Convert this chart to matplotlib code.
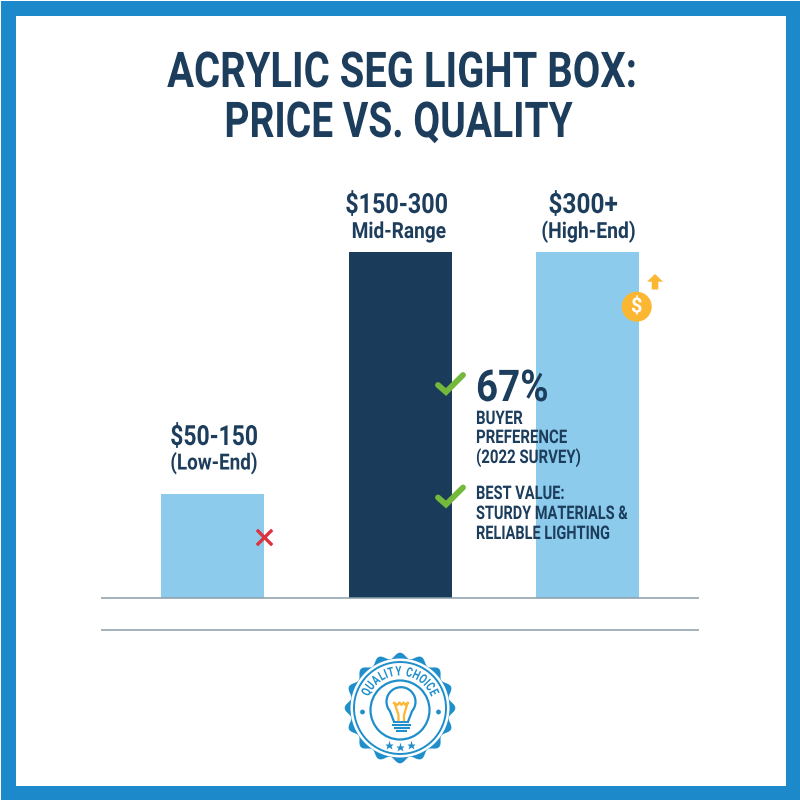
import numpy as np
import matplotlib
matplotlib.use('Agg')
import matplotlib.pyplot as plt
from matplotlib.patches import Rectangle, Circle, Polygon
from matplotlib.patheffects import AbstractPathEffect
from matplotlib.transforms import Affine2D
from matplotlib.textpath import TextPath
from matplotlib.font_manager import FontProperties

FONT = 'Roboto'

categories = ['Low-End', 'Mid-Range', 'High-End']
heights = [30, 100, 100]
price_labels = ['$50-150', '$150-300', '$300+']
tier_labels = ['(Low-End)', 'Mid-Range', '(High-End)']
bar_colors = ['#8ccbec', '#1a3b5a', '#8ccbec']

NAVY = '#1c3d5c'
BLUE = '#1f8fcb'
BORDER = '#1c8aca'
GREEN = '#74b83c'
GOLD = '#fbb632'
RED = '#d9343f'


class Condense(AbstractPathEffect):
    """Squeeze real text along its own direction around its anchor
    (no condensed face is installed). x0, y0 are display pixels."""
    def __init__(self, sx, x0, y0=0.0, rot=0.0):
        super().__init__()
        self.m = (Affine2D().translate(-x0, -y0).rotate_deg(-rot).scale(sx, 1)
                  .rotate_deg(rot).translate(x0, y0))

    def draw_path(self, renderer, gc, tpath, affine, rgbFace=None):
        renderer.draw_path(gc, tpath, affine + self.m, rgbFace)


fig = plt.figure(figsize=(8, 8), dpi=100, facecolor='white')

# chart axes: pixels x 101-699, y 252-598
ax = fig.add_axes([101/800, (800-598)/800, 598/800, 346/800])
ax.bar(range(3), heights, width=0.55, color=bar_colors)
ax.set_xlim(-0.598, 2.595)
ax.set_ylim(0, 100)
ax.axis('off')

# overlay in pixel coordinates
ov = fig.add_axes([0, 0, 1, 1], zorder=5)
ov.set_xlim(0, 800)
ov.set_ylim(800, 0)
ov.axis('off')
ov.patch.set_alpha(0)

ov.add_patch(Rectangle((7.5, 7.5), 785, 785, fill=False, ec=BORDER, lw=10.8))


def T(x, base, s, size, sx, ha='center', color=NAVY):
    t = ov.text(x, base, s, fontsize=size, ha=ha, va='baseline', color=color,
                fontweight='bold', family=FONT)
    t.set_path_effects([Condense(sx, x)])
    return t


T(402, 87, 'ACRYLIC SEG LIGHT BOX:', 35.5, 0.81)
T(398.5, 137, 'PRICE VS. QUALITY', 35.5, 0.79)

for x, b, s, sx in zip([214, 396.5, 583], [445, 213, 213], price_labels, [0.825, 0.84, 0.88]):
    T(x, b, s, 20, sx)
for x, b, s, sx in zip([214, 399, 588.5], [469.5, 238, 238], tier_labels, [0.85, 0.86, 0.87]):
    T(x, b, s, 16, sx)

for y in (598, 630.3):
    ov.plot([101, 699], [y, y], color='#8a9ea8', lw=1.1, solid_capstyle='butt')

# checks, cross
for dy in (0, 112.5):
    ov.plot([438, 446, 463], [385+dy, 392+dy, 375+dy], color=GREEN, lw=4.2,
            solid_capstyle='round', solid_joinstyle='miter')
ov.plot([258, 271], [531, 544], color=RED, lw=2.4)
ov.plot([271, 258], [531, 544], color=RED, lw=2.4)

# annotation text
T(476, 401, '67%', 31.5, 0.88, ha='left')
for b, s, sx in zip([424, 443, 463], ['BUYER', 'PREFERENCE', '(2022 SURVEY)'], [0.8, 0.8, 0.8]):
    T(476, b, s, 13.5, sx, ha='left')
for b, s, sx in zip([499, 519, 539], ['BEST VALUE:', 'STURDY MATERIALS &', 'RELIABLE LIGHTING'],
                    [0.78, 0.775, 0.775]):
    T(476, b, s, 13.5, sx, ha='left')

# coin + arrow
ov.add_patch(Circle((636.7, 306.7), 15, fc=GOLD, ec='none'))
T(636.7, 312.5, '$', 15, 0.95, color='white')
ov.add_patch(Polygon([(647, 281.7), (655, 274), (663, 281.7), (658.3, 281.7), (658.3, 289.5),
                      (651.7, 289.5), (651.7, 281.7)], fc=GOLD, ec='none'))

# badge
cx, cy = 400, 708
ang = np.linspace(0, 2*np.pi, 720)
r = 52.5 + 2.8*np.cos(16*ang - np.pi*8)
ov.add_patch(Polygon(np.c_[cx+r*np.cos(ang), cy+r*np.sin(ang)], fc=BLUE, ec='none'))
ov.add_patch(Circle((cx, cy), 49.5, fc='white', ec='none'))
ov.add_patch(Circle((cx, cy), 46, fc='none', ec=BLUE, lw=1.4))
ov.add_patch(Circle((cx, cy+2), 29.5, fc='none', ec=BLUE, lw=1.6))

badge_text = 'QUALITY CHOICE'
BADGE_PT = 9.5
BADGE_SX = 0.74
fp = FontProperties(family=FONT, weight='bold', size=BADGE_PT)
adv = np.array([3.0 if ch == ' ' else TextPath((0, 0), ch, prop=fp).get_extents().width + 1.4
                for ch in badge_text])
R_TXT = 37
mid = np.cumsum(adv) - adv/2 - adv.sum()/2
for ch, m in zip(badge_text, mid):
    a = m/adv.sum() * 138
    t = np.radians(a)
    px, py = cx+R_TXT*np.sin(t), cy+1-R_TXT*np.cos(t)
    txt = ov.text(px, py, ch, fontsize=BADGE_PT, rotation=-a, rotation_mode='anchor',
                  ha='center', va='center', color=BLUE, fontweight='bold', family=FONT)
    txt.set_path_effects([Condense(BADGE_SX, px, 800-py, -a)])
for px in (362.5, 438.5):
    ov.add_patch(Circle((px, 712), 2.4, fc=BLUE, ec='none'))
for px, py in ((389.3, 745), (400, 746.7), (411, 745)):
    ov.plot(px, py, marker='*', ms=6.5, color=BLUE, mec='none')

# bulb
bx, by, br = 401, 701.7, 14.5
a = np.radians(np.linspace(40, -220, 60))
ox = np.r_[394, bx+br*np.cos(a[::-1]), 408]
oy = np.r_[721.7, by+br*np.sin(a[::-1]), 721.7]
ov.plot(ox, oy, color=BLUE, lw=1.6, zorder=4)
ov.plot([394, 408], [721.7, 721.7], color=BLUE, lw=1.4, zorder=4)
for y, x0, x1 in ((724.5, 393, 409.5), (727.8, 394.5, 408.5), (731, 396.5, 405.5)):
    ov.plot([x0, x1], [y, y], color=BLUE, lw=1.5, zorder=4)
ov.plot([394, 397.5, 399.5, 401.5, 403.5, 405.5, 408], [703, 705, 702.5, 705, 702.5, 705, 703],
        color=GOLD, lw=1.6, zorder=4)
ov.plot([394.5, 398.5, 398.5], [703, 715, 720], color=GOLD, lw=1.6, zorder=4)
ov.plot([407.5, 404, 404], [703, 715, 720], color=GOLD, lw=1.6, zorder=4)

fig.savefig('out.png', dpi=100, facecolor='white')
